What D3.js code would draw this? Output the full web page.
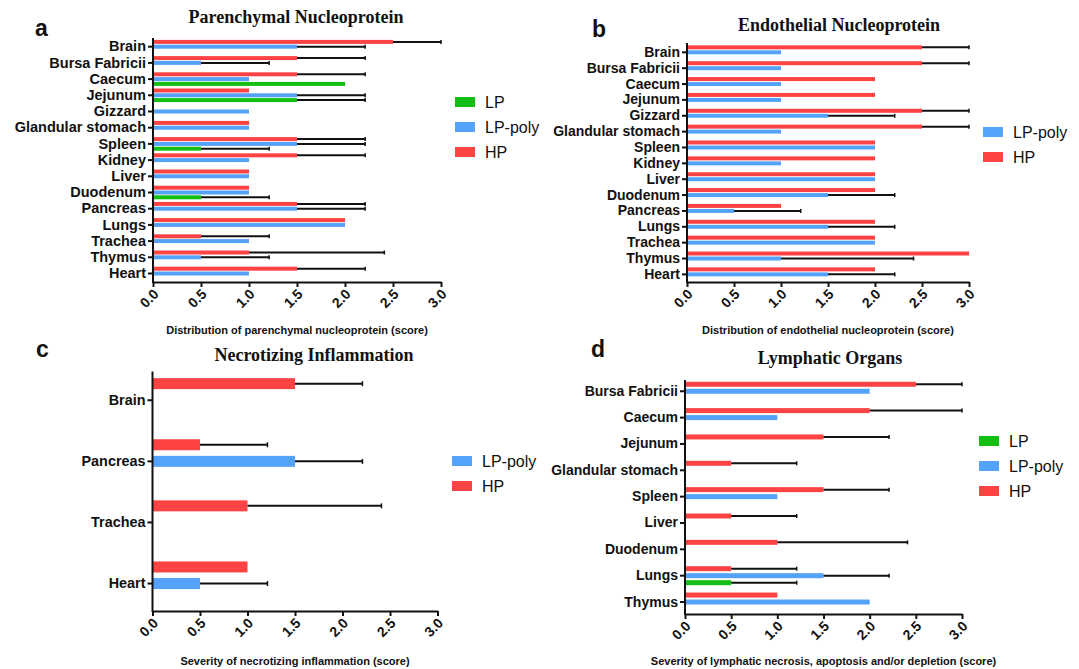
<!DOCTYPE html>
<html>
<head>
<meta charset="utf-8">
<script src="https://cdn.jsdelivr.net/npm/d3@7"></script>
<style>
  body { margin: 0; background: #fff; }
  svg { display: block; }
</style>
</head>
<body>
<svg id="chart" width="1079" height="669"></svg>
<script>
// ---------- DATA ----------
const seriesNames = ["HP", "LP-poly", "LP"];
const xTicks = [0, 0.5, 1.0, 1.5, 2.0, 2.5, 3.0];

// Panel a: Parenchymal Nucleoprotein
const catsA = ["Brain","Bursa Fabricii","Caecum","Jejunum","Gizzard","Glandular stomach","Spleen","Kidney","Liver","Duodenum","Pancreas","Lungs","Trachea","Thymus","Heart"];
const hpA      = [2.5, 1.5, 1.5, 1.0, 0,   1.0, 1.5, 1.5, 1.0, 1.0, 1.5, 2.0, 0.5, 1.0, 1.5];
const hpSdA    = [0.5, 0.71,0.71,0,   0,   0,   0.71,0.71,0,   0,   0.71,0,   0.71,1.41,0.71];
const lpPolyA  = [1.5, 0.5, 1.0, 1.5, 1.0, 1.0, 1.5, 1.0, 1.0, 1.0, 1.5, 2.0, 1.0, 0.5, 1.0];
const lpPolySdA= [0.71,0.71,0,   0.71,0,   0,   0.71,0,   0,   0,   0.71,0,   0,   0.71,0];
const lpA      = [0,   0,   2.0, 1.5, 0,   0,   0.5, 0,   0,   0.5, 0,   0,   0,   0,   0];
const lpSdA    = [0,   0,   0,   0.71,0,   0,   0.71,0,   0,   0.71,0,   0,   0,   0,   0];

// Panel b: Endothelial Nucleoprotein
const catsB = ["Brain","Bursa Fabricii","Caecum","Jejunum","Gizzard","Glandular stomach","Spleen","Kidney","Liver","Duodenum","Pancreas","Lungs","Trachea","Thymus","Heart"];
const hpB      = [2.5, 2.5, 2.0, 2.0, 2.5, 2.5, 2.0, 2.0, 2.0, 2.0, 1.0, 2.0, 2.0, 3.0, 2.0];
const hpSdB    = [0.5, 0.5, 0,   0,   0.5, 0.5, 0,   0,   0,   0,   0,   0,   0,   0,   0];
const lpPolyB  = [1.0, 1.0, 1.0, 1.0, 1.5, 1.0, 2.0, 1.0, 2.0, 1.5, 0.5, 1.5, 2.0, 1.0, 1.5];
const lpPolySdB= [0,   0,   0,   0,   0.71,0,   0,   0,   0,   0.71,0.71,0.71,0,   1.41,0.71];

// Panel c: Necrotizing Inflammation
const catsC = ["Brain","Pancreas","Trachea","Heart"];
const hpC       = [1.5, 0.5, 1.0, 1.0];
const hpSdC     = [0.71,0.71,1.41,0];
const lpPolyC   = [0,   1.5, 0,   0.5];
const lpPolySdC = [0,   0.71,0,   0.71];

// Panel d: Lymphatic Organs
const catsD = ["Bursa Fabricii","Caecum","Jejunum","Glandular stomach","Spleen","Liver","Duodenum","Lungs","Thymus"];
const hpD       = [2.5, 2.0, 1.5, 0.5, 1.5, 0.5, 1.0, 0.5, 1.0];
const hpSdD     = [0.5, 1.0, 0.71,0.71,0.71,0.71,1.41,0.71,0];
const lpPolyD   = [2.0, 1.0, 0,   0,   1.0, 0,   0,   1.5, 2.0];
const lpPolySdD = [0,   0,   0,   0,   0,   0,   0,   0.71,0];
const lpD       = [0,   0,   0,   0,   0,   0,   0,   0.5, 0];
const lpSdD     = [0,   0,   0,   0,   0,   0,   0,   0.71,0];

// ---------- STYLE ----------
const colors = { "HP": "#fd4343", "LP-poly": "#55a2fb", "LP": "#12bf12" };
const sans = "'Liberation Sans', Arial, sans-serif";
const serif = "'Liberation Serif', 'Times New Roman', serif";

const svg = d3.select("#chart");

function buildRows(cats, series) {
  const rows = [];
  cats.forEach((c, i) => {
    Object.keys(series).forEach(name => {
      const [vals, sds] = series[name];
      rows.push({ cat: c, series: name, value: vals[i], sd: sds[i] });
    });
  });
  return rows;
}

function drawPanel(cfg) {
  const g = svg.append("g");
  const x = d3.scaleLinear().domain([0, 3]).range([cfg.x0, cfg.x1]);
  const y = d3.scaleBand().domain(cfg.cats).range([cfg.yb0, cfg.yb1]).padding(0);
  const off = d3.scalePoint().domain(seriesNames).range([-cfg.slot, cfg.slot]);

  const rows = buildRows(cfg.cats, cfg.series).filter(d => d.value > 0);
  const cy = d => y(d.cat) + y.bandwidth() / 2 + off(d.series);

  // bars
  g.selectAll("rect.bar").data(rows).join("rect")
    .attr("class", "bar")
    .attr("x", x(0))
    .attr("y", d => cy(d) - cfg.thick / 2)
    .attr("width", d => x(d.value) - x(0))
    .attr("height", cfg.thick)
    .attr("fill", d => colors[d.series]);

  // error bars
  const errRows = rows.filter(d => d.sd > 0);
  g.selectAll("line.err").data(errRows).join("line")
    .attr("class", "err")
    .attr("x1", d => x(d.value)).attr("x2", d => x(d.value + d.sd))
    .attr("y1", cy).attr("y2", cy)
    .attr("stroke", "#111").attr("stroke-width", cfg.errW);
  g.selectAll("line.cap").data(errRows).join("line")
    .attr("class", "cap")
    .attr("x1", d => x(d.value + d.sd)).attr("x2", d => x(d.value + d.sd))
    .attr("y1", d => cy(d) - cfg.cap / 2)
    .attr("y2", d => cy(d) + cfg.cap / 2)
    .attr("stroke", "#111").attr("stroke-width", 1.5);

  // y axis
  const ya = g.append("g").attr("transform", `translate(${cfg.x0},0)`)
    .call(d3.axisLeft(y).tickSize(5).tickSizeOuter(0).tickPadding(2));
  ya.select(".domain").remove();
  ya.selectAll(".tick line").attr("stroke", "#111").attr("stroke-width", 2);
  ya.selectAll(".tick text").attr("font-family", sans).attr("font-weight", "bold")
    .attr("font-size", cfg.catFont).attr("fill", "#111");
  g.append("line").attr("x1", cfg.x0).attr("x2", cfg.x0)
    .attr("y1", cfg.axTop).attr("y2", cfg.axBottom + 1)
    .attr("stroke", "#111").attr("stroke-width", 2);

  // x axis
  const xa = g.append("g").attr("transform", `translate(0,${cfg.axBottom})`)
    .call(d3.axisBottom(x).tickValues(xTicks).tickFormat(d3.format(".1f")).tickSize(5).tickSizeOuter(0));
  xa.select(".domain").attr("stroke", "#111").attr("stroke-width", 2);
  xa.selectAll(".tick line").attr("stroke", "#111").attr("stroke-width", 2);
  xa.selectAll(".tick text")
    .attr("font-family", sans).attr("font-weight", "bold").attr("font-size", 14).attr("fill", "#111")
    .attr("text-anchor", "end")
    .attr("dy", null).attr("y", 0)
    .attr("transform", "translate(6,13) rotate(-45)");

  // x label
  g.append("text").attr("x", (cfg.x0 + cfg.x1) / 2).attr("y", cfg.xLabelY)
    .attr("text-anchor", "middle").attr("font-family", sans).attr("font-weight", "bold")
    .attr("font-size", 11).attr("fill", "#111").text(cfg.xLabel);

  // title
  g.append("text").attr("x", cfg.titleX).attr("y", cfg.titleY)
    .attr("text-anchor", "middle").attr("font-family", serif).attr("font-weight", "bold")
    .attr("font-size", 18).attr("fill", "#111").text(cfg.title);

  // panel letter
  g.append("text").attr("x", cfg.letterX).attr("y", cfg.letterY)
    .attr("font-family", sans).attr("font-weight", "bold")
    .attr("font-size", 23).attr("fill", "#111").text(cfg.letter);

  // legend
  cfg.legend.forEach((name, i) => {
    const ly = cfg.legY + i * 25;
    g.append("rect").attr("x", cfg.legX).attr("y", ly - 5).attr("width", 20).attr("height", 10)
      .attr("fill", colors[name]);
    g.append("text").attr("x", cfg.legX + 30).attr("y", ly + 5.5)
      .attr("font-family", sans).attr("font-size", 16).attr("fill", "#111").text(name);
  });
}

drawPanel({
  letter: "a", letterX: 35, letterY: 36,
  title: "Parenchymal Nucleoprotein", titleX: 296, titleY: 23,
  xLabel: "Distribution of parenchymal nucleoprotein (score)", xLabelY: 334,
  cats: catsA,
  series: { "HP": [hpA, hpSdA], "LP-poly": [lpPolyA, lpPolySdA], "LP": [lpA, lpSdA] },
  x0: 153, x1: 441, yb0: 38.6, yb1: 281.6, axTop: 38, axBottom: 282,
  slot: 4.8, thick: 4, errW: 2, cap: 4, catFont: 14.5,
  legend: ["LP", "LP-poly", "HP"], legX: 455, legY: 102
});

drawPanel({
  letter: "b", letterX: 592, letterY: 37,
  title: "Endothelial Nucleoprotein", titleX: 839, titleY: 31,
  xLabel: "Distribution of endothelial nucleoprotein (score)", xLabelY: 334,
  cats: catsB,
  series: { "HP": [hpB, hpSdB], "LP-poly": [lpPolyB, lpPolySdB] },
  x0: 687, x1: 969, yb0: 44.4, yb1: 282.3, axTop: 43, axBottom: 282,
  slot: 5, thick: 4, errW: 2, cap: 4, catFont: 14,
  legend: ["LP-poly", "HP"], legX: 983, legY: 132
});

drawPanel({
  letter: "c", letterX: 36, letterY: 357,
  title: "Necrotizing Inflammation", titleX: 314, titleY: 361,
  xLabel: "Severity of necrotizing inflammation (score)", xLabelY: 665,
  cats: catsC,
  series: { "HP": [hpC, hpSdC], "LP-poly": [lpPolyC, lpPolySdC] },
  x0: 152.5, x1: 437.5, yb0: 369.7, yb1: 614.1, axTop: 371.5, axBottom: 611,
  slot: 16.6, thick: 11, errW: 2, cap: 5, catFont: 14.4,
  legend: ["LP-poly", "HP"], legX: 452, legY: 461
});

drawPanel({
  letter: "d", letterX: 591, letterY: 357,
  title: "Lymphatic Organs", titleX: 830, titleY: 364,
  xLabel: "Severity of lymphatic necrosis, apoptosis and/or depletion (score)", xLabelY: 665,
  cats: catsD,
  series: { "HP": [hpD, hpSdD], "LP-poly": [lpPolyD, lpPolySdD], "LP": [lpD, lpSdD] },
  x0: 685, x1: 962, yb0: 378.1, yb1: 615.2, axTop: 380, axBottom: 614,
  slot: 7, thick: 5, errW: 2, cap: 4, catFont: 14,
  legend: ["LP", "LP-poly", "HP"], legX: 979, legY: 441
});
</script>
</body>
</html>
